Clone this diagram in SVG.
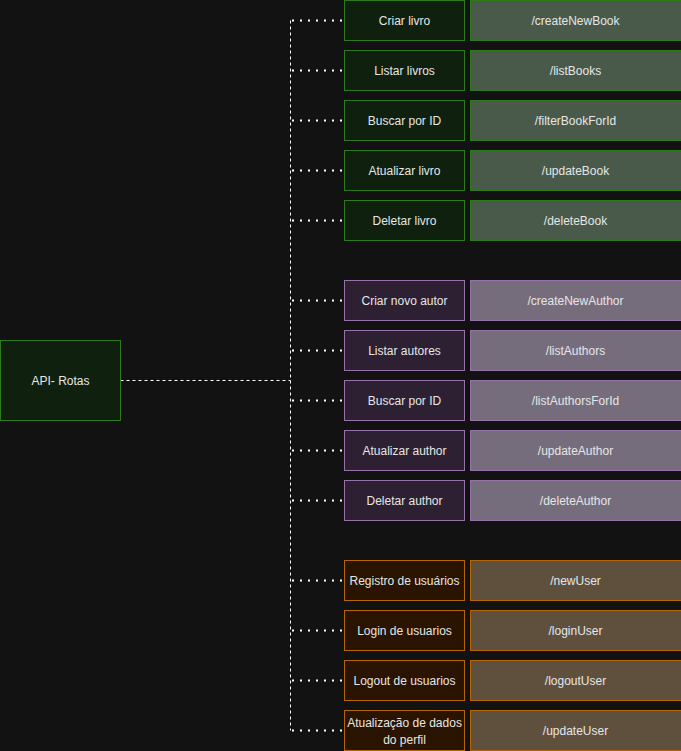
<svg xmlns="http://www.w3.org/2000/svg" width="681" height="751" viewBox="0 0 681 751">
  <style>
    text { font-family: "Liberation Sans", Arial, sans-serif; font-size: 12px; fill: #e6e6e6; text-anchor: middle; dominant-baseline: central; }
    .g1 { fill: #0f200f; stroke: #2d7a1a; stroke-width: 1; }
    .g2 { fill: #4a5a4a; stroke: #2d7a1a; stroke-width: 1; }
    .p1 { fill: #2d2033; stroke: #9673a6; stroke-width: 1; }
    .p2 { fill: #766d7c; stroke: #9673a6; stroke-width: 1; }
    .o1 { fill: #2a1400; stroke: #b46504; stroke-width: 1; }
    .o2 { fill: #5f503e; stroke: #b46504; stroke-width: 1; }
    .dash { fill: none; stroke: #ffffff; stroke-width: 1; stroke-dasharray: 3 3; }
    .dot { fill: none; stroke: #ffffff; stroke-width: 2; stroke-dasharray: 2 6; }
  </style>
  <rect width="681" height="751" fill="#121212"/>

  <!-- connectors -->
  <g id="connectors">
    <path class="dash" d="M120.5 380.5 H290.5"/>
    <path class="dash" d="M290.5 20.5 V730.5"/>
    <path class="dot" d="M292 20.5 H344"/>
    <path class="dot" d="M292 70.5 H344"/>
    <path class="dot" d="M292 120.5 H344"/>
    <path class="dot" d="M292 170.5 H344"/>
    <path class="dot" d="M292 220.5 H344"/>
    <path class="dot" d="M292 300.5 H344"/>
    <path class="dot" d="M292 350.5 H344"/>
    <path class="dot" d="M292 400.5 H344"/>
    <path class="dot" d="M292 450.5 H344"/>
    <path class="dot" d="M292 500.5 H344"/>
    <path class="dot" d="M292 580.5 H344"/>
    <path class="dot" d="M292 630.5 H344"/>
    <path class="dot" d="M292 680.5 H344"/>
    <path class="dot" d="M292 730.5 H344"/>
  </g>

  <!-- root -->
  <g id="api-rotas">
    <rect class="g1" x="0.5" y="340.5" width="120" height="80"/>
    <text x="60.5" y="380.5">API- Rotas</text>
  </g>

  <!-- livros -->
  <g id="criar-livro"><rect class="g1" x="344.5" y="0.5" width="120" height="40"/><text x="404.5" y="20.5">Criar livro</text></g>
  <g id="route-createNewBook"><rect class="g2" x="470.5" y="0.5" width="211" height="40"/><text x="575.5" y="20.5">/createNewBook</text></g>
  <g id="listar-livros"><rect class="g1" x="344.5" y="50.5" width="120" height="40"/><text x="404.5" y="70.5">Listar livros</text></g>
  <g id="route-listBooks"><rect class="g2" x="470.5" y="50.5" width="211" height="40"/><text x="575.5" y="70.5">/listBooks</text></g>
  <g id="buscar-livro"><rect class="g1" x="344.5" y="100.5" width="120" height="40"/><text x="404.5" y="120.5">Buscar por ID</text></g>
  <g id="route-filterBookForId"><rect class="g2" x="470.5" y="100.5" width="211" height="40"/><text x="575.5" y="120.5">/filterBookForId</text></g>
  <g id="atualizar-livro"><rect class="g1" x="344.5" y="150.5" width="120" height="40"/><text x="404.5" y="170.5">Atualizar livro</text></g>
  <g id="route-updateBook"><rect class="g2" x="470.5" y="150.5" width="211" height="40"/><text x="575.5" y="170.5">/updateBook</text></g>
  <g id="deletar-livro"><rect class="g1" x="344.5" y="200.5" width="120" height="40"/><text x="404.5" y="220.5">Deletar livro</text></g>
  <g id="route-deleteBook"><rect class="g2" x="470.5" y="200.5" width="211" height="40"/><text x="575.5" y="220.5">/deleteBook</text></g>

  <!-- autores -->
  <g id="criar-autor"><rect class="p1" x="344.5" y="280.5" width="120" height="40"/><text x="404.5" y="300.5">Criar novo autor</text></g>
  <g id="route-createNewAuthor"><rect class="p2" x="470.5" y="280.5" width="211" height="40"/><text x="575.5" y="300.5">/createNewAuthor</text></g>
  <g id="listar-autores"><rect class="p1" x="344.5" y="330.5" width="120" height="40"/><text x="404.5" y="350.5">Listar autores</text></g>
  <g id="route-listAuthors"><rect class="p2" x="470.5" y="330.5" width="211" height="40"/><text x="575.5" y="350.5">/listAuthors</text></g>
  <g id="buscar-autor"><rect class="p1" x="344.5" y="380.5" width="120" height="40"/><text x="404.5" y="400.5">Buscar por ID</text></g>
  <g id="route-listAuthorsForId"><rect class="p2" x="470.5" y="380.5" width="211" height="40"/><text x="575.5" y="400.5">/listAuthorsForId</text></g>
  <g id="atualizar-autor"><rect class="p1" x="344.5" y="430.5" width="120" height="40"/><text x="404.5" y="450.5">Atualizar author</text></g>
  <g id="route-updateAuthor"><rect class="p2" x="470.5" y="430.5" width="211" height="40"/><text x="575.5" y="450.5">/updateAuthor</text></g>
  <g id="deletar-autor"><rect class="p1" x="344.5" y="480.5" width="120" height="40"/><text x="404.5" y="500.5">Deletar author</text></g>
  <g id="route-deleteAuthor"><rect class="p2" x="470.5" y="480.5" width="211" height="40"/><text x="575.5" y="500.5">/deleteAuthor</text></g>

  <!-- usuarios -->
  <g id="registro-usuarios"><rect class="o1" x="344.5" y="560.5" width="120" height="40"/><text x="404.5" y="580.5">Registro de usuários</text></g>
  <g id="route-newUser"><rect class="o2" x="470.5" y="560.5" width="211" height="40"/><text x="575.5" y="580.5">/newUser</text></g>
  <g id="login-usuarios"><rect class="o1" x="344.5" y="610.5" width="120" height="40"/><text x="404.5" y="630.5">Login de usuarios</text></g>
  <g id="route-loginUser"><rect class="o2" x="470.5" y="610.5" width="211" height="40"/><text x="575.5" y="630.5">/loginUser</text></g>
  <g id="logout-usuarios"><rect class="o1" x="344.5" y="660.5" width="120" height="40"/><text x="404.5" y="680.5">Logout de usuarios</text></g>
  <g id="route-logoutUser"><rect class="o2" x="470.5" y="660.5" width="211" height="40"/><text x="575.5" y="680.5">/logoutUser</text></g>
  <g id="atualizacao-perfil"><rect class="o1" x="344.5" y="710.5" width="120" height="40"/><text x="404.5" y="722.5">Atualização de dados</text><text x="404.5" y="739.5">do perfil</text></g>
  <g id="route-updateUser"><rect class="o2" x="470.5" y="710.5" width="211" height="40"/><text x="575.5" y="730.5">/updateUser</text></g>
</svg>
